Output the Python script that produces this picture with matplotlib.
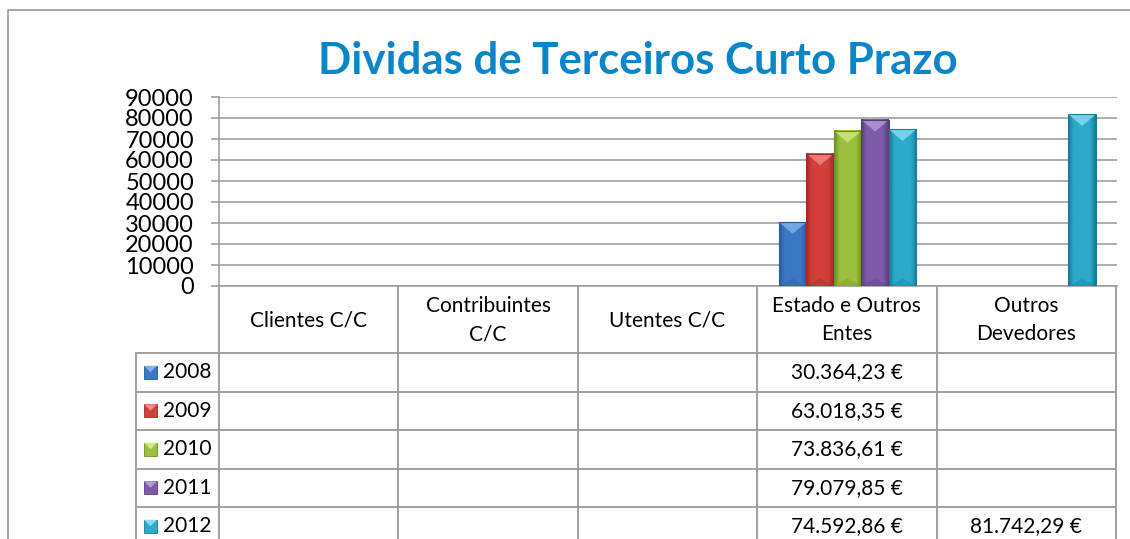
import numpy as np
import matplotlib
matplotlib.use('Agg')
import matplotlib.pyplot as plt
from matplotlib.lines import Line2D
from matplotlib.patches import Rectangle, Polygon
from matplotlib.colors import LinearSegmentedColormap

plt.rcParams['font.family'] = ['Lato', 'DejaVu Sans']

# Dados
categorias = ['Clientes C/C', 'Contribuintes\nC/C', 'Utentes C/C',
              'Estado e Outros\nEntes', 'Outros\nDevedores']
anos = ['2008', '2009', '2010', '2011', '2012']
valores = {
    '2008': [None, None, None, 30364.23, None],
    '2009': [None, None, None, 63018.35, None],
    '2010': [None, None, None, 73836.61, None],
    '2011': [None, None, None, 79079.85, None],
    '2012': [None, None, None, 74592.86, 81742.29],
}
y_ticks = [0, 10000, 20000, 30000, 40000, 50000, 60000, 70000, 80000, 90000]

# cores: (escura, media, clara)
cores = {
    '2008': ('#2A5A96', '#3B78C4', '#7FB4EA'),
    '2009': ('#9E2B28', '#D23F3B', '#F08C88'),
    '2010': ('#6E8E24', '#9BC03D', '#D0E882'),
    '2011': ('#573D7E', '#7D5BA9', '#B59BDA'),
    '2012': ('#1B7A94', '#2DA9CA', '#84E0F4'),
}
cinza = '#A0A0A0'

W, H = 1130, 539
fig = plt.figure(figsize=(W / 100, H / 100), dpi=100)


def fx(x):
    return x / W


def fy(y):
    return 1 - y / H


# moldura externa
fig.add_artist(Line2D([fx(8), fx(8), fx(1135)], [fy(545), fy(9.5), fy(9.5)],
                      color=cinza, lw=1.3))

# area do grafico
ax_l, ax_r, ax_t, ax_b = 219, 1117, 97, 286
ax = fig.add_axes([fx(ax_l), fy(ax_b), (ax_r - ax_l) / W, (ax_b - ax_t) / H])

n_cat = len(categorias)
n_ser = len(anos)
larg = 0.153
for i, ano in enumerate(anos):
    esc, med, cla = cores[ano]
    cmap = LinearSegmentedColormap.from_list(ano, [esc, med, med, med, med, esc])
    for c, v in enumerate(valores[ano]):
        if v is None:
            continue
        x0 = c + (i - (n_ser - 1) / 2) * larg - larg / 2
        x1 = x0 + larg
        grad = np.linspace(0, 1, 50).reshape(1, -1)
        ax.imshow(grad, extent=[x0, x1, 0, v], aspect='auto', cmap=cmap,
                  zorder=3, interpolation='bilinear')
        th = 5500
        ax.add_patch(Polygon([(x0, v), (x1, v), (x0 + larg / 2, v - th)],
                             closed=True, facecolor=cla, edgecolor='none',
                             alpha=0.8, zorder=4))
        ax.add_patch(Polygon([(x0, 0), (x1, 0), (x0 + larg / 2, 3500)],
                             closed=True, facecolor=esc, edgecolor='none',
                             alpha=0.35, zorder=4))
        ax.add_patch(Rectangle((x0, 0), larg, v, facecolor='none',
                               edgecolor=esc, lw=0.8, zorder=5))

ax.set_xlim(-0.5, n_cat - 0.5)
ax.set_ylim(0, 90000)
ax.set_yticks(y_ticks)
ax.set_yticklabels([str(t) for t in y_ticks], fontsize=17)
ax.set_xticks([])
ax.yaxis.grid(True, color=cinza, lw=1.2)
ax.set_axisbelow(True)
for s in ['top', 'right']:
    ax.spines[s].set_visible(False)
for s in ['left', 'bottom']:
    ax.spines[s].set_color(cinza)
    ax.spines[s].set_linewidth(1.2)
ax.tick_params(axis='y', length=6, width=1.2, color=cinza, pad=12)
ax.set_facecolor('none')

# titulo
fig.text(fx(638), fy(61), 'Dividas de Terceiros Curto Prazo', ha='center',
         va='center', fontsize=31.5, fontweight='bold', color='#0A86C8')

# tabela de dados
col_w = (ax_r - 1 - ax_l) / n_cat
col_x = [ax_l + k * col_w for k in range(n_cat + 1)]
hdr_t, hdr_b = 286, 353
row_h = 38.5
leg_x = 136
linhas = [hdr_b + k * row_h for k in range(n_ser + 1)]


def linha(xs, ys):
    fig.add_artist(Line2D([fx(x) for x in xs], [fy(y) for y in ys],
                          color=cinza, lw=1.4))


for x in col_x:
    linha([x, x], [hdr_t, H + 5])
linha([leg_x, leg_x], [hdr_b, H + 5])
for y in linhas:
    linha([leg_x, col_x[-1]], [y, y])

for c, nome in enumerate(categorias):
    fig.text(fx((col_x[c] + col_x[c + 1]) / 2), fy((hdr_t + hdr_b) / 2 + 1), nome,
             ha='center', va='center', fontsize=15, linespacing=1.5)

for i, ano in enumerate(anos):
    yc = (linhas[i] + linhas[i + 1]) / 2
    esc, med, cla = cores[ano]
    k = 13
    fig.add_artist(Rectangle((fx(144), fy(yc + k / 2)), k / W, k / H,
                             facecolor=med, edgecolor=esc, lw=0.6))
    fig.add_artist(Polygon([(fx(144), fy(yc - k / 2)), (fx(144 + k), fy(yc - k / 2)),
                            (fx(144 + k / 2), fy(yc))], closed=True,
                           facecolor=cla, edgecolor='none'))
    fig.text(fx(163), fy(yc), ano, ha='left', va='center', fontsize=15)
    for c, v in enumerate(valores[ano]):
        if v is None:
            continue
        txt = f'{v:,.2f}'.replace(',', 'X').replace('.', ',').replace('X', '.') + ' €'
        fig.text(fx((col_x[c] + col_x[c + 1]) / 2), fy(yc), txt,
                 ha='center', va='center', fontsize=15)

fig.savefig('out.png', dpi=100, facecolor='white')
